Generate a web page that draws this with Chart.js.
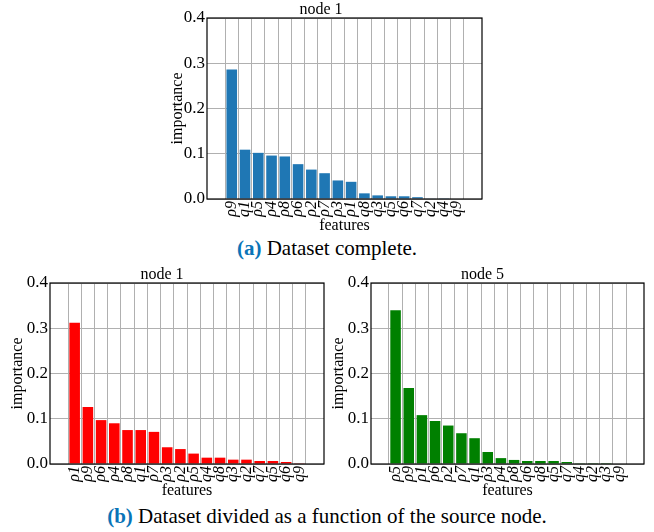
<!DOCTYPE html>
<html>
<head>
<meta charset="utf-8">
<script src="https://cdn.jsdelivr.net/npm/chart.js@4"></script>
<style>
  body { margin: 0; background: #fff; width: 654px; height: 532px; position: relative; overflow: hidden; }
  canvas { position: absolute; }
  .caption { position: absolute; left: 0; width: 654px; text-align: center; font: 21px/21px "Liberation Serif", serif; color: #000; }
  .caption b { color: #0a74b8; }
</style>
</head>
<body>
<canvas id="chartA" width="330" height="235" style="left:160px;top:0px"></canvas>
<div class="caption" style="top:238px"><b>(a)</b> Dataset complete.</div>
<canvas id="chartB1" width="330" height="235" style="left:0px;top:265px"></canvas>
<canvas id="chartB5" width="330" height="235" style="left:321px;top:265px"></canvas>
<div class="caption" style="top:506px"><b>(b)</b> Dataset divided as a function of the source node.</div>
<script>
// (a) complete dataset, node 1
const labelsAll = ['ρ9', 'q1', 'ρ5', 'ρ4', 'ρ8', 'ρ6', 'ρ2', 'ρ7', 'ρ3', 'ρ1', 'q8', 'q3', 'q5', 'q6', 'q7', 'q2', 'q4', 'q9'];
const valuesAll = [0.286, 0.109, 0.102, 0.096, 0.094, 0.077, 0.065, 0.057, 0.041, 0.038, 0.0125, 0.008, 0.006, 0.006, 0.004, 0.0008, 0.0005, 0.0];

// (b) split by source node
const labelsNode1 = ['ρ1', 'ρ9', 'ρ6', 'ρ4', 'ρ8', 'q1', 'ρ7', 'ρ3', 'ρ2', 'ρ5', 'q4', 'q8', 'q3', 'q2', 'q7', 'q5', 'q6', 'q9'];
const valuesNode1 = [0.312, 0.126, 0.097, 0.090, 0.075, 0.075, 0.071, 0.037, 0.033, 0.023, 0.014, 0.014, 0.0096, 0.0096, 0.0066, 0.0066, 0.0044, 0.0005];

const labelsNode5 = ['ρ5', 'ρ9', 'ρ1', 'ρ6', 'ρ2', 'ρ7', 'q1', 'ρ3', 'ρ4', 'ρ8', 'q6', 'q8', 'q5', 'q7', 'q4', 'q2', 'q3', 'q9'];
const valuesNode5 = [0.340, 0.168, 0.108, 0.095, 0.085, 0.068, 0.057, 0.0265, 0.013, 0.009, 0.0066, 0.0066, 0.0066, 0.0044, 0.0005, 0.0003, 0.0002, 0.0];

const yTicks = [0, 0.1, 0.2, 0.3, 0.4];

const serif = '"Liberation Serif", "Times New Roman", serif';

// black frame around the plot area, like matplotlib spines
const frame = {
    id: 'frame',
    afterDraw(chart) {
        const {ctx, chartArea: a} = chart;
        ctx.save();
        ctx.strokeStyle = '#000';
        ctx.lineWidth = 1.2;
        ctx.strokeRect(a.left, a.top, a.right - a.left, a.bottom - a.top);
        ctx.restore();
    }
};

function makeChart(id, title, labels, values, color, yWidth, rightPad) {
    const n = labels.length;
    const margin = 0.05 * (n - 1 + 0.8); // matplotlib default x margins around bars
    new Chart(document.getElementById(id), {
        type: 'bar',
        data: {
            datasets: [{
                data: values.map((v, i) => ({x: i, y: v})),
                backgroundColor: color,
                borderWidth: 0,
                categoryPercentage: 1,
                barPercentage: 0.8,
            }]
        },
        options: {
            responsive: false,
            animation: false,
            layout: {padding: {left: 0, right: rightPad, top: 0, bottom: 0}},
            plugins: {
                legend: {display: false},
                tooltip: {enabled: false},
                title: {
                    display: true,
                    text: title,
                    color: '#000',
                    font: {family: serif, size: 16, weight: 'normal', lineHeight: 1},
                    padding: {top: 2, bottom: 0},
                }
            },
            scales: {
                x: {
                    type: 'linear',
                    min: -0.4 - margin,
                    max: n - 1 + 0.4 + margin,
                    z: 1,
                    afterBuildTicks: axis => { axis.ticks = labels.map((_, i) => ({value: i})); },
                    afterFit: axis => { axis.height = 36; },
                    grid: {color: '#b0b0b0', lineWidth: 1, drawTicks: false},
                    border: {display: false},
                    ticks: {
                        autoSkip: false,
                        minRotation: 90,
                        maxRotation: 90,
                        padding: 2,
                        color: '#000',
                        font: {family: serif, size: 16, style: 'italic'},
                        callback: v => labels[v],
                    },
                    title: {
                        display: true,
                        text: 'features',
                        color: '#000',
                        font: {family: serif, size: 16},
                        padding: {top: 0, bottom: 0},
                    }
                },
                y: {
                    min: 0,
                    max: 0.4,
                    z: 1,
                    afterBuildTicks: axis => { axis.ticks = yTicks.map(v => ({value: v})); },
                    afterFit: axis => { axis.width = yWidth; },
                    grid: {color: '#b0b0b0', lineWidth: 1, drawTicks: false},
                    border: {display: false},
                    ticks: {
                        padding: 2,
                        color: '#000',
                        font: {family: serif, size: 17},
                        callback: v => v.toFixed(1),
                    },
                    title: {
                        display: true,
                        text: 'importance',
                        color: '#000',
                        font: {family: serif, size: 16},
                        padding: {top: 8, bottom: 0},
                    }
                }
            }
        },
        plugins: [frame]
    });
}

makeChart('chartA', 'node 1', labelsAll, valuesAll, '#1f77b4', 47, 8);
makeChart('chartB1', 'node 1', labelsNode1, valuesNode1, '#ff0000', 50, 6);
makeChart('chartB5', 'node 5', labelsNode5, valuesNode5, '#008000', 50, 7);
</script>
</body>
</html>
